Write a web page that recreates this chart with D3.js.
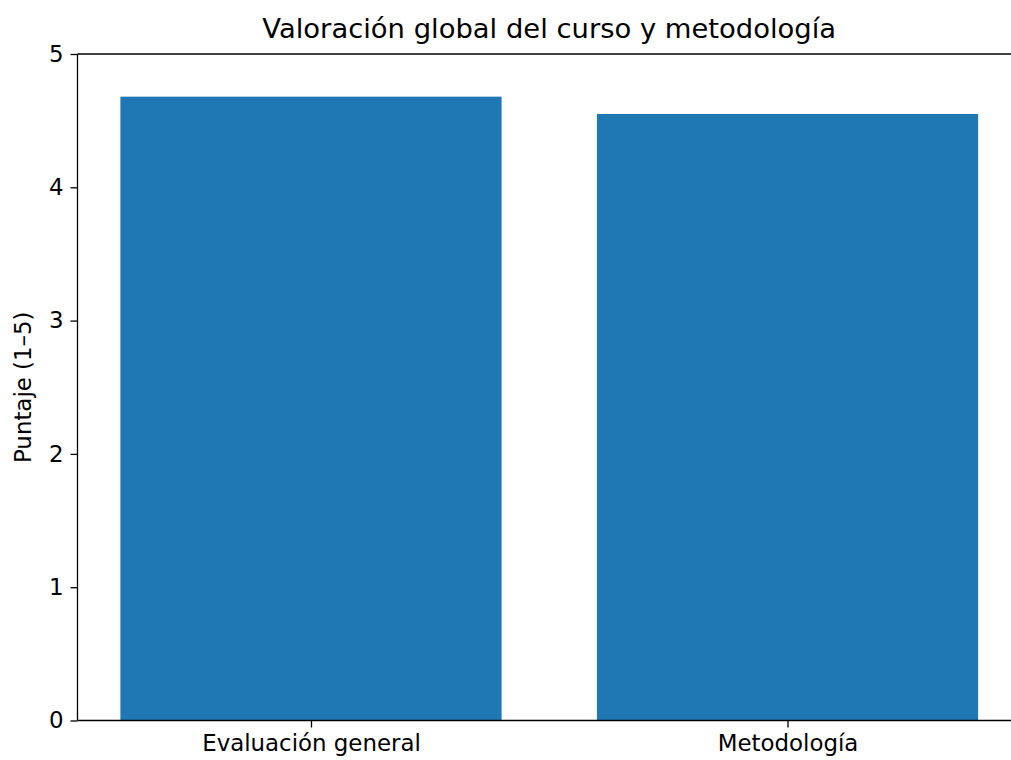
<!DOCTYPE html>
<html>
<head>
<meta charset="utf-8">
<script src="https://cdn.jsdelivr.net/npm/d3@7"></script>
<style>
  html, body { margin: 0; padding: 0; background: #fff; }
  svg { display: block; font-family: "DejaVu Sans", sans-serif; }
</style>
</head>
<body>
<svg id="chart" width="1011" height="760"></svg>
<script>
const categories = ["Evaluación general", "Metodología"];
const values = [4.68, 4.55];
const yTicks = [0, 1, 2, 3, 4, 5];
const titleText = "Valoración global del curso y metodología";
const yLabelText = "Puntaje (1–5)";

(function () {
const svg = d3.select("#chart");
const mLeft = 77.5, mRight = 1021, mTop = 54, mBottom = 720.5;

const x = d3.scaleLinear().domain([-0.49, 1.49]).range([mLeft, mRight]);
const y = d3.scaleLinear().domain([0, 5]).range([mBottom, mTop]);
const barW = 0.8;

svg.append("g").selectAll("rect").data(values).join("rect")
  .attr("x", (d, i) => x(i - barW / 2))
  .attr("width", x(barW) - x(0))
  .attr("y", d => y(d))
  .attr("height", d => y(0) - y(d))
  .attr("fill", "#1f77b4");

const fs = 22.9;
const yAxis = d3.axisLeft(y).tickValues(yTicks).tickFormat(d3.format("d")).tickSizeOuter(0).tickSize(7).tickPadding(7);
const gy = svg.append("g").attr("transform", `translate(${mLeft},0)`).call(yAxis);
gy.select(".domain").remove();
gy.selectAll("line").attr("stroke", "#000").attr("stroke-width", 1.3);
gy.selectAll("text").attr("font-size", fs).attr("fill", "#000").attr("font-family", "DejaVu Sans");

const xAxis = d3.axisBottom(x).tickValues(categories.map((c, i) => i)).tickFormat((d) => categories[d]).tickSizeOuter(0).tickSize(7).tickPadding(7);
const gx = svg.append("g").attr("transform", `translate(0,${mBottom})`).call(xAxis);
gx.select(".domain").remove();
gx.selectAll("line").attr("stroke", "#000").attr("stroke-width", 1.3);
gx.selectAll("text").attr("font-size", fs).attr("fill", "#000").attr("font-family", "DejaVu Sans");

const sp = svg.append("g").attr("stroke", "#000").attr("stroke-width", 1.3).attr("fill", "none");
sp.append("line").attr("x1", mLeft).attr("x2", mLeft).attr("y1", mTop).attr("y2", mBottom);
sp.append("line").attr("x1", mLeft).attr("x2", mRight).attr("y1", mBottom).attr("y2", mBottom);
sp.append("line").attr("x1", mLeft).attr("x2", mRight).attr("y1", mTop).attr("y2", mTop);
sp.append("line").attr("x1", mRight).attr("x2", mRight).attr("y1", mTop).attr("y2", mBottom);

svg.append("text")
  .attr("x", (mLeft + mRight) / 2).attr("y", 38)
  .attr("text-anchor", "middle")
  .attr("font-size", 27.4).attr("fill", "#000")
  .text(titleText);

svg.append("text")
  .attr("transform", `translate(31,${(mTop + mBottom) / 2}) rotate(-90)`)
  .attr("text-anchor", "middle")
  .attr("font-size", fs).attr("fill", "#000")
  .text(yLabelText);
})();
</script>
</body>
</html>
